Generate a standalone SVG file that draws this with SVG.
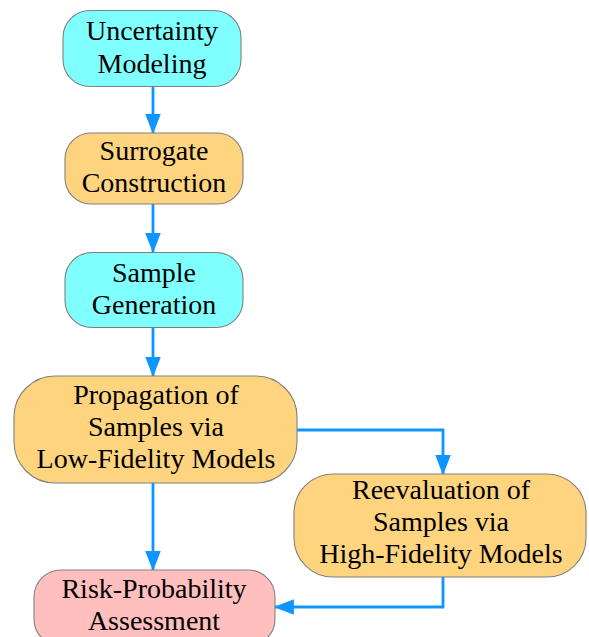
<svg xmlns="http://www.w3.org/2000/svg" width="589" height="637" viewBox="0 0 589 637">
<style>
.node { stroke: #808080; stroke-width: 1.1; }
.cyan { fill: #80FFFF; }
.orange { fill: #FFD47F; }
.pink { fill: #FFBFBF; }
.lbl { font-size: 28px; fill: #000000; text-anchor: middle; }
.edge { fill: none; stroke: #0E95FF; stroke-width: 2.8; marker-end: url(#ah); }
</style>
<defs>
<marker id="ah" markerUnits="userSpaceOnUse" markerWidth="20" markerHeight="16" refX="17" refY="7" orient="auto" viewBox="0 0 18 14">
<path d="M0,0 L18,7 L0,14 Z" fill="#0E95FF"/>
</marker>
</defs>
<rect width="589" height="637" fill="#FFFFFF"/>
<g id="connectors">
<path class="edge" d="M153,86 L153,133"/>
<path class="edge" d="M153,204 L153,252"/>
<path class="edge" d="M153,328 L153,376"/>
<path class="edge" d="M153,483 L153,570"/>
<path class="edge" d="M297,430 L443,430 L443,474"/>
<path class="edge" d="M443,577 L443,607 L275,607"/>
</g>
<g font-family="'Liberation Serif', 'Times New Roman', Tinos, 'DejaVu Serif', serif">
<g id="uncertainty-modeling">
<rect class="node cyan" x="63" y="10.5" width="178" height="76" rx="27" ry="27"/>
<text class="lbl" x="152" y="40">Uncertainty</text>
<text class="lbl" x="152" y="73">Modeling</text>
</g>
<g id="surrogate-construction">
<rect class="node orange" x="65" y="133" width="178" height="71" rx="26" ry="26"/>
<text class="lbl" x="154" y="160">Surrogate</text>
<text class="lbl" x="154" y="192">Construction</text>
</g>
<g id="sample-generation">
<rect class="node cyan" x="65" y="252.5" width="178" height="75" rx="27" ry="27"/>
<text class="lbl" x="154" y="282">Sample</text>
<text class="lbl" x="154" y="313.5">Generation</text>
</g>
<g id="propagation">
<rect class="node orange" x="14" y="376" width="283" height="107" rx="41" ry="41"/>
<text class="lbl" x="156" y="404">Propagation of</text>
<text class="lbl" x="156" y="436">Samples via</text>
<text class="lbl" x="156" y="468">Low-Fidelity Models</text>
</g>
<g id="reevaluation">
<rect class="node orange" x="294" y="474" width="292" height="103" rx="39" ry="39"/>
<text class="lbl" x="441" y="499">Reevaluation of</text>
<text class="lbl" x="441" y="531">Samples via</text>
<text class="lbl" x="441" y="563">High-Fidelity Models</text>
</g>
<g id="risk-assessment">
<rect class="node pink" x="34" y="570" width="241" height="76" rx="27" ry="27"/>
<text class="lbl" x="154" y="597.5">Risk-Probability</text>
<text class="lbl" x="154" y="630">Assessment</text>
</g>
</g>
</svg>
